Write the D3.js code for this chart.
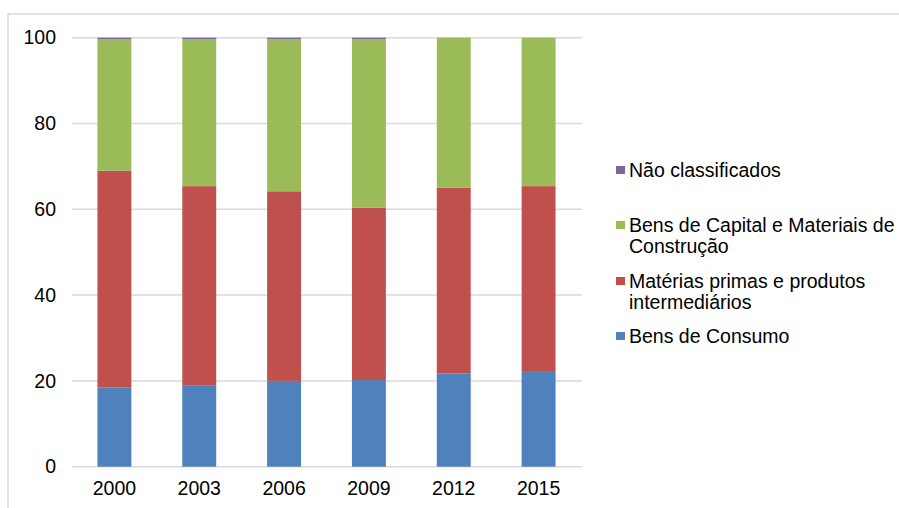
<!DOCTYPE html>
<html><head><meta charset="utf-8">
<script src="https://cdn.jsdelivr.net/npm/d3@7"></script>
<style>body{margin:0;background:#fff}svg{display:block}text{font-family:"Liberation Sans",Arial,sans-serif}</style>
</head><body><svg id="c" width="899" height="508"></svg>
<script>
const years = ["2000","2003","2006","2009","2012","2015"];
const bensConsumo = [18.5, 19.0, 20.0, 20.2, 21.7, 22.1];
const materiasPrimas = [50.5, 46.4, 44.2, 40.2, 43.3, 43.3];
const naoClassificados = [0.3, 0.3, 0.3, 0.3, 0.0, 0.0];
const bensCapital = years.map((y,i)=> +(100 - bensConsumo[i] - materiasPrimas[i] - naoClassificados[i]).toFixed(1));
const yTicks = [0,20,40,60,80,100];
const seriesNames = ["Bens de Consumo","Matérias primas e produtos intermediários","Bens de Capital e Materiais de Construção","Não classificados"];
const colors = ["#4F81BD","#C0504D","#9BBB59","#8064A2"];
const legendLines = [["Não classificados"],["Bens de Capital e Materiais de","Construção"],["Matérias primas e produtos","intermediários"],["Bens de Consumo"]];
const legendColors = ["#8064A2","#9BBB59","#C0504D","#4F81BD"];

const FS = 19.5;
const svg = d3.select("#c");
svg.append("rect").attr("x",8).attr("y",14).attr("width",1000).attr("height",600)
  .attr("fill","none").attr("stroke","#d9d9d9").attr("stroke-width",1.5);

const x = d3.scaleBand().domain(years).range([72,581]).paddingInner(0.6).paddingOuter(0.3);
const y = d3.scaleLinear().domain([0,100]).range([466.7,37.7]);

svg.append("g").selectAll("line").data(yTicks).join("line")
  .attr("x1",72).attr("x2",582).attr("y1",d=>y(d)).attr("y2",d=>y(d))
  .attr("stroke","#d9d9d9").attr("stroke-width",1.5);

const rows = years.map((yr,i)=>({year:yr, s0:bensConsumo[i], s1:materiasPrimas[i], s2:bensCapital[i], s3:naoClassificados[i]}));
const stack = d3.stack().keys(["s0","s1","s2","s3"])(rows);
svg.append("g").selectAll("g").data(stack).join("g").attr("fill",(d,i)=>colors[i])
  .selectAll("rect").data(d=>d).join("rect")
  .attr("x",d=>x(d.data.year)).attr("width",x.bandwidth())
  .attr("y",d=>y(d[1])).attr("height",d=>Math.max(0,y(d[0])-y(d[1])));

const ya = svg.append("g").attr("transform","translate(72,0)")
  .call(d3.axisLeft(y).tickValues(yTicks).tickSize(0).tickPadding(16));
ya.select(".domain").remove();
ya.selectAll("text").attr("font-size",FS).attr("fill","#000").style("font-family","'Liberation Sans',Arial,sans-serif");

const xa = svg.append("g").attr("transform","translate(0,466.7)")
  .call(d3.axisBottom(x).tickSize(0).tickPadding(14));
xa.select(".domain").remove();
xa.selectAll("text").attr("font-size",FS).attr("fill","#000").style("font-family","'Liberation Sans',Arial,sans-serif");

const legY = [170, 225, 281, 336];
const lg = svg.append("g");
legendLines.forEach((lines,i)=>{
  lg.append("rect").attr("x",616).attr("y",legY[i]-4).attr("width",9).attr("height",8).attr("fill",legendColors[i]);
  lines.forEach((t,j)=>{
    lg.append("text").attr("x",629).attr("y",legY[i]+21*j).attr("dy","0.35em")
      .attr("font-size",FS).attr("fill","#000").text(t);
  });
});
</script></body></html>
